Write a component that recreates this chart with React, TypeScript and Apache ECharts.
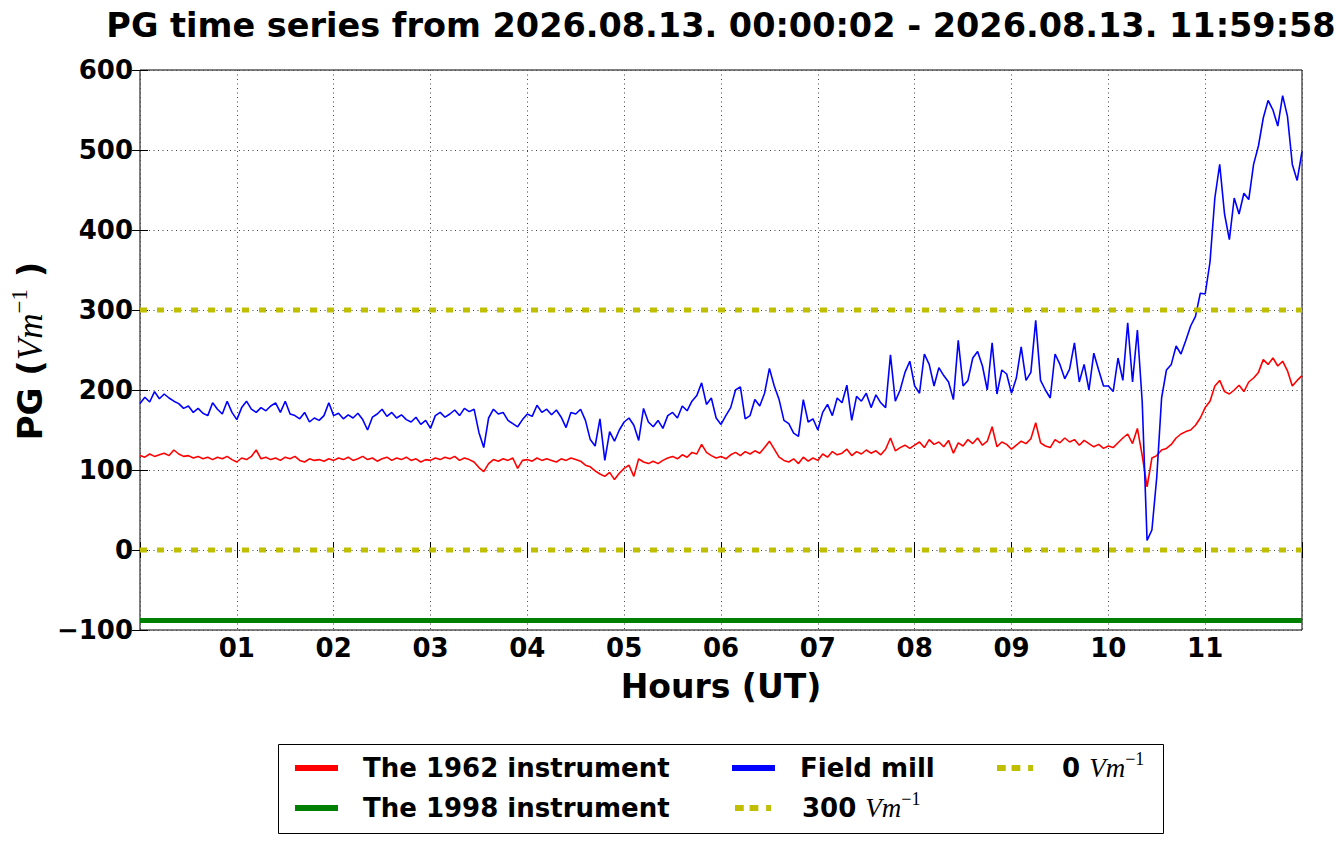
import React, { useEffect, useRef } from 'react';
import * as echarts from 'echarts';

const TITLE = 'PG time series from 2026.08.13. 00:00:02 - 2026.08.13. 11:59:58';
const X_NAME = 'Hours (UT)';
const SAMPLE_STEP_H = 0.05;
const X_MIN = 0;
const X_MAX = 12;
const Y_MIN = -100;
const Y_MAX = 600;

const NAME_1962 = 'The 1962 instrument';
const NAME_1998 = 'The 1998 instrument';
const NAME_MILL = 'Field mill';
const NAME_300 = '300 Vm-1';
const NAME_0 = '0 Vm-1';

// The 1962 instrument, one value every 0.05 h from 00:00 to 12:00
const RED_1962 = [
  118, 116, 120, 117, 119, 121, 118, 125, 120, 117, 118, 115, 117, 114, 116, 113, 116, 114, 117, 113,
  110, 115, 113, 117, 125, 114, 116, 113, 115, 112, 116, 114, 117, 112, 110, 114, 112, 113, 111, 114,
  112, 115, 113, 116, 112, 114, 117, 113, 115, 111, 114, 116, 112, 115, 113, 116, 112, 114, 110, 113,
  112, 115, 113, 116, 114, 117, 112, 115, 113, 110, 103, 98, 108, 113, 111, 114, 112, 115, 102, 112,
  113, 111, 115, 112, 114, 112, 110, 114, 112, 115, 113, 111, 106, 104, 99, 95, 92, 97, 88, 96,
  102, 106, 92, 114, 110, 108, 111, 108, 112, 115, 117, 114, 119, 116, 122, 120, 132, 122, 118, 115,
  117, 114, 119, 122, 118, 123, 120, 124, 121, 128, 136, 126, 116, 112, 110, 114, 108, 116, 111, 115,
  112, 120, 116, 123, 119, 121, 126, 118, 123, 120, 125, 121, 124, 119, 126, 140, 124, 128, 131, 127,
  131, 135, 128, 138, 132, 135, 129, 137, 121, 134, 130, 138, 133, 140, 131, 136, 154, 129, 135, 132,
  126, 131, 136, 133, 139, 159, 134, 130, 128, 138, 134, 140, 135, 138, 131, 137, 133, 129, 132, 127,
  130, 128, 134, 140, 145, 133, 152, 118, 79, 115, 118, 125, 127, 132, 140, 145, 148, 150, 156, 165,
  178, 186, 205, 212, 198, 195, 200, 206, 198, 210, 215, 222, 238, 232, 240, 230, 236, 224, 205, 212,
  218,
];

// Field mill, one value every 0.05 h from 00:00 to 12:00
const BLUE_MILL = [
  183, 191, 185, 198, 189, 195, 190, 186, 183, 177, 180, 172, 177, 171, 168, 184, 176, 170, 186, 172,
  163, 178, 186, 176, 172, 178, 174, 180, 184, 172, 186, 170, 168, 164, 172, 160, 165, 162, 168, 184,
  168, 171, 164, 169, 165, 171, 163, 150, 166, 170, 176, 167, 172, 165, 169, 163, 160, 166, 157, 162,
  152, 168, 172, 166, 170, 175, 168, 177, 173, 176, 147, 128, 165, 176, 170, 172, 162, 158, 154, 163,
  170, 167, 181, 172, 176, 169, 175, 166, 153, 172, 170, 176, 162, 138, 130, 164, 112, 148, 136, 150,
  160, 165, 156, 137, 177, 160, 154, 162, 152, 168, 172, 165, 180, 174, 186, 193, 209, 182, 190, 165,
  157, 168, 178, 200, 204, 164, 168, 188, 180, 196, 227, 205, 188, 162, 158, 146, 142, 188, 160, 164,
  150, 172, 182, 168, 190, 184, 206, 162, 192, 186, 196, 178, 194, 184, 178, 244, 186, 200, 222, 236,
  205, 196, 245, 232, 205, 228, 218, 210, 188, 262, 205, 212, 240, 248, 230, 200, 259, 195, 225, 220,
  196, 215, 254, 212, 222, 287, 212, 200, 190, 245, 232, 214, 226, 259, 210, 232, 200, 246, 225, 205,
  205, 198, 240, 212, 284, 210, 275, 185, 12, 25, 91, 190, 225, 232, 255, 245, 262, 280, 292, 321,
  320, 360, 440, 482, 420, 388, 440, 420, 446, 438, 482, 505, 540, 562, 550, 530, 568, 542, 482, 462,
  498,
];

const GREEN_1998_LEVEL = -88;
const REF_300 = 300;
const REF_0 = 0;

const SANS = '"DejaVu Sans", "Noto Sans", sans-serif';
const MATH = '"Liberation Serif", "DejaVu Serif", serif';

const toPairs = (vals: number[]) =>
  vals.map((v, i) => [Number((i * SAMPLE_STEP_H).toFixed(2)), v]);
const flat = (level: number) => [
  [X_MIN, level],
  [X_MAX, level],
];

const DOT_ICON = 'path://M0,0h9v6h-9z M15,0h9v6h-9z M32,0h5v6h-5z';

const legendText = {
  fontFamily: SANS,
  fontWeight: 'bold' as const,
  fontSize: 26,
  color: '#000',
  lineHeight: 36,
  rich: {
    n: { fontFamily: SANS, fontWeight: 'bold', fontSize: 26, color: '#000', lineHeight: 36 },
    v: { fontFamily: MATH, fontStyle: 'italic', fontWeight: 'normal', fontSize: 27, color: '#000', lineHeight: 36 },
    s: { fontFamily: MATH, fontWeight: 'normal', fontSize: 18, color: '#000', verticalAlign: 'top', lineHeight: 18 },
  },
};

const legendFormatter = (name: string) => {
  if (name.endsWith('Vm-1')) {
    return `{n|${name.split(' ')[0]} }{v|Vm}{s|\u22121}`;
  }
  return name;
};

const makeLegend = (name: string, left: number, top: number, icon: string, w: number, pad: number) => ({
  data: [{ name, icon }],
  left,
  top,
  orient: 'vertical',
  padding: 0,
  itemWidth: w,
  itemHeight: 6,
  selectedMode: false,
  formatter: legendFormatter,
  textStyle: { ...legendText, padding: [0, 0, 0, pad] },
});

export default function App() {
  const ref = useRef<HTMLDivElement>(null);

  useEffect(() => {
    document.body.style.margin = '0';
    if (!ref.current) return;
    const chart = echarts.init(ref.current, undefined, { renderer: 'svg' });

    const tickLabel = {
      fontFamily: SANS,
      fontWeight: 'bold' as const,
      fontSize: 26,
      color: '#000',
    };
    const gridLine = { show: true, lineStyle: { color: '#444', width: 1, type: [1, 3.5] as number[] } };
    const tick = { show: true, inside: true, length: 8, lineStyle: { color: '#000', width: 1 } };

    chart.setOption({
      animation: false,
      backgroundColor: '#fff',
      title: {
        text: TITLE,
        left: 721,
        top: 8,
        textAlign: 'center',
        padding: 0,
        textStyle: { fontFamily: SANS, fontWeight: 'bold', fontSize: 33.5, color: '#000' },
      },
      grid: {
        left: 140,
        top: 70,
        width: 1162,
        height: 560,
        show: true,
        borderColor: '#000',
        borderWidth: 1,
        backgroundColor: 'transparent',
      },
      xAxis: [
        {
          type: 'value',
          position: 'bottom',
          min: X_MIN,
          max: X_MAX,
          interval: 1,
          axisLine: { show: false },
          axisTick: tick,
          splitLine: gridLine,
          axisLabel: {
            ...tickLabel,
            margin: 5,
            formatter: (v: number) => (v <= X_MIN || v >= X_MAX ? '' : String(v).padStart(2, '0')),
          },
          name: X_NAME,
          nameLocation: 'middle',
          nameGap: 40,
          nameTextStyle: { fontFamily: SANS, fontWeight: 'bold', fontSize: 33, color: '#000' },
        },
        {
          type: 'value',
          position: 'top',
          min: X_MIN,
          max: X_MAX,
          interval: 1,
          axisLine: { show: false },
          axisTick: tick,
          splitLine: { show: false },
          axisLabel: { show: false },
        },
      ],
      yAxis: [
        {
          type: 'value',
          position: 'left',
          min: Y_MIN,
          max: Y_MAX,
          interval: 100,
          axisLine: { show: false },
          axisTick: tick,
          splitLine: gridLine,
          axisLabel: {
            ...tickLabel,
            margin: 7,
            formatter: (v: number) => (v < 0 ? '\u2212' + Math.abs(v) : String(v)),
          },
        },
        {
          type: 'value',
          position: 'right',
          min: Y_MIN,
          max: Y_MAX,
          interval: 100,
          axisLine: { show: false },
          axisTick: tick,
          splitLine: { show: false },
          axisLabel: { show: false },
        },
      ],
      legend: [
        makeLegend(NAME_1962, 295, 750, 'rect', 43, 20),
        makeLegend(NAME_1998, 295, 790, 'rect', 43, 20),
        makeLegend(NAME_MILL, 732, 750, 'rect', 43, 20),
        makeLegend(NAME_300, 735, 790, DOT_ICON, 36, 26),
        makeLegend(NAME_0, 997, 750, DOT_ICON, 36, 24),
      ],
      graphic: [
        {
          type: 'rect',
          z: 0,
          shape: { x: 278.5, y: 744.5, width: 885, height: 89 },
          style: { fill: 'transparent', stroke: '#000', lineWidth: 1 },
          silent: true,
        },
        {
          type: 'text',
          x: 30,
          y: 351,
          rotation: Math.PI / 2,
          silent: true,
          style: {
            text: '{a|PG (}{v|Vm}{s|\u22121}{a| )}',
            align: 'center',
            verticalAlign: 'middle',
            rich: {
              a: { fontFamily: SANS, fontWeight: 'bold', fontSize: 34, fill: '#000', lineHeight: 44 },
              v: { fontFamily: MATH, fontStyle: 'italic', fontSize: 35, fill: '#000', lineHeight: 44 },
              s: { fontFamily: MATH, fontSize: 23, fill: '#000', verticalAlign: 'top', lineHeight: 23 },
            },
          },
        },
      ],
      series: [
        {
          name: NAME_1962,
          type: 'line',
          data: toPairs(RED_1962),
          showSymbol: false,
          symbol: 'none',
          itemStyle: { color: '#ff0000' },
          lineStyle: { color: '#ff0000', width: 1.6 },
          clip: true,
        },
        {
          name: NAME_1998,
          type: 'line',
          data: flat(GREEN_1998_LEVEL),
          showSymbol: false,
          symbol: 'none',
          itemStyle: { color: '#008000' },
          lineStyle: { color: '#008000', width: 5 },
        },
        {
          name: NAME_MILL,
          type: 'line',
          data: toPairs(BLUE_MILL),
          showSymbol: false,
          symbol: 'none',
          itemStyle: { color: '#0000ff' },
          lineStyle: { color: '#0000ff', width: 1.6 },
          clip: true,
        },
        {
          name: NAME_300,
          type: 'line',
          data: flat(REF_300),
          showSymbol: false,
          symbol: 'none',
          itemStyle: { color: '#bfbf00' },
          lineStyle: { color: '#bfbf00', width: 5, type: [7, 10] },
        },
        {
          name: NAME_0,
          type: 'line',
          data: flat(REF_0),
          showSymbol: false,
          symbol: 'none',
          itemStyle: { color: '#bfbf00' },
          lineStyle: { color: '#bfbf00', width: 5, type: [7, 10] },
        },
      ],
    });

    return () => chart.dispose();
  }, []);

  return <div ref={ref} style={{ width: 1341, height: 844 }} />;
}
